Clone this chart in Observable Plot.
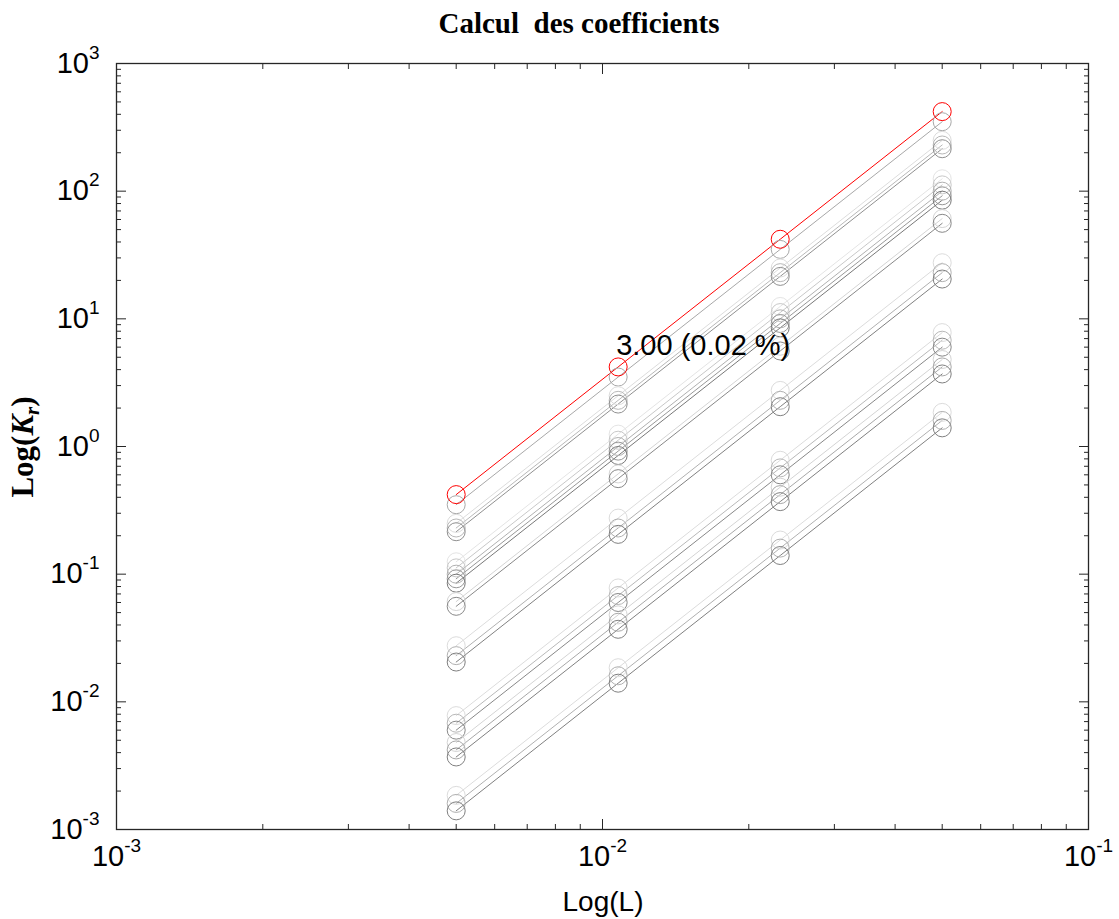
<!DOCTYPE html>
<html>
<head>
<meta charset="utf-8">
<script src="https://cdn.jsdelivr.net/npm/d3@7"></script>
<script src="https://cdn.jsdelivr.net/npm/@observablehq/plot@0.6"></script>
<style>
  body { margin: 0; background: #fff; }
  #wrap { position: relative; width: 1119px; height: 919px; overflow: hidden; background: #fff; }
  #title { position: absolute; left: 579px; top: 23px; transform: translate(-50%, -50%); white-space: nowrap;
           font: bold 29px "Liberation Serif", "Times New Roman", serif; line-height: 34px; color: #000; }
  #chart { position: absolute; left: 0; top: 40px; }
  #ylabel { position: absolute; left: 25px; top: 447px; transform: translate(-50%, -50%) rotate(-90deg);
            white-space: nowrap; font: bold 31px "Liberation Serif", "Times New Roman", serif; color: #000; }
  #ylabel sub { font-size: 21px; vertical-align: -6px; }
  #xlabel { position: absolute; left: 603px; top: 902px; transform: translate(-50%, -50%);
            white-space: nowrap; font: 28px "Liberation Sans", Arial, sans-serif; line-height: 30px; color: #000; }
</style>
</head>
<body>
<div id="wrap">
  <div id="title">Calcul&nbsp; des coefficients</div>
  <div id="chart"></div>
  <div id="ylabel">Log(<i>K</i><sub><i>r</i></sub>)</div>
  <div id="xlabel">Log(L)</div>
</div>
<script>
// ---- data ----
const xValues = [0.005, 0.01077, 0.02321, 0.05];

const seriesNames = [
  "s02","s03","s04","s05","s06","s07","s08","s09","s10","s11","s12",
  "s13","s14","s15","s16","s17","s18","s19","s20","s21","s22","s23","s24","best"
];
const seriesColors = [
  "#a8a8a8","#dcdcdc","#b8b8b8","#909090","#e4e4e4","#c8c8c8","#b0b0b0","#989898","#787878","#d4d4d4","#888888",
  "#dcdcdc","#b0b0b0","#808080","#dcdcdc","#b8b8b8","#888888","#d4d4d4","#a8a8a8","#808080","#dcdcdc","#b0b0b0","#808080",
  "#ff0000"
];
const seriesValues = [
  [0.35, 3.5, 35, 350],
  [0.25, 2.5, 25, 250],
  [0.23, 2.3, 23, 230],
  [0.215, 2.15, 21.5, 215],
  [0.125, 1.25, 12.5, 125],
  [0.112, 1.12, 11.2, 112],
  [0.100, 1.0, 10, 100],
  [0.092, 0.92, 9.2, 92],
  [0.085, 0.85, 8.5, 85],
  [0.061, 0.61, 6.1, 61],
  [0.056, 0.56, 5.6, 56],
  [0.0275, 0.275, 2.75, 27.5],
  [0.023, 0.23, 2.3, 23],
  [0.0205, 0.205, 2.05, 20.5],
  [0.0078, 0.078, 0.78, 7.8],
  [0.0068, 0.068, 0.68, 6.8],
  [0.006, 0.06, 0.6, 6.0],
  [0.0048, 0.048, 0.48, 4.8],
  [0.0042, 0.042, 0.42, 4.2],
  [0.0037, 0.037, 0.37, 3.7],
  [0.00185, 0.0185, 0.185, 1.85],
  [0.0016, 0.016, 0.16, 1.6],
  [0.0014, 0.014, 0.14, 1.4],
  [0.42, 4.2, 42, 420]
];

const annotation = [{x: 0.01077, y: 6.2, text: "3.00 (0.02 %)"}];

const xMajorTicks = [1e-3, 1e-2, 1e-1];
const yMajorTicks = [1e-3, 1e-2, 1e-1, 1e0, 1e1, 1e2, 1e3];
const minorMultipliers = [2, 3, 4, 5, 6, 7, 8, 9];

// ---- build table ----
const rows = [];
seriesNames.forEach((name, s) => {
  xValues.forEach((x, i) => {
    rows.push({series: name, color: seriesColors[s], x, y: seriesValues[s][i]});
  });
});
const minorOf = majors => majors.slice(0, -1).flatMap(m => minorMultipliers.map(k => k * m));
const xMinorTicks = minorOf(xMajorTicks);
const yMinorTicks = minorOf(yMajorTicks);

const expFmt = d => "10^" + Math.round(Math.log10(d));
const blank = () => "";
const axisStyle = {stroke: "#262626", strokeWidth: 1};

const chart = Plot.plot({
  width: 1119,
  height: 879,
  marginLeft: 116,
  marginRight: 31,
  marginTop: 23,
  marginBottom: 90,
  x: {type: "log", domain: [1e-3, 1e-1]},
  y: {type: "log", domain: [1e-3, 1e3]},
  color: {type: "identity"},
  style: {fontFamily: "'Liberation Sans', Arial, sans-serif", background: "white", color: "black"},
  marks: [
    Plot.line(rows, {x: "x", y: "y", z: "series", stroke: "color", strokeWidth: 1}),
    Plot.dot(rows, {x: "x", y: "y", r: 9, stroke: "color", fill: "none", strokeWidth: 1}),
    Plot.text(annotation, {x: "x", y: "y", text: "text", textAnchor: "start", fontSize: 29, fill: "black", dx: -2}),

    // tick labels
    Plot.axisX(xMajorTicks, {anchor: "bottom", tickSize: 0, tickPadding: 16, tickFormat: expFmt, fontSize: 29, label: null}),
    Plot.axisY(yMajorTicks, {anchor: "left", tickSize: 0, tickPadding: 17, tickFormat: expFmt, fontSize: 29, label: null}),

    // inward ticks on all four sides
    Plot.axisX(xMajorTicks, {anchor: "bottom", tickSize: -10, tickFormat: blank, label: null, ...axisStyle}),
    Plot.axisX(xMinorTicks, {anchor: "bottom", tickSize: -5, tickFormat: blank, label: null, ...axisStyle}),
    Plot.axisX(xMajorTicks, {anchor: "top", tickSize: -10, tickFormat: blank, label: null, ...axisStyle}),
    Plot.axisX(xMinorTicks, {anchor: "top", tickSize: -5, tickFormat: blank, label: null, ...axisStyle}),
    Plot.axisY(yMajorTicks, {anchor: "left", tickSize: -10, tickFormat: blank, label: null, ...axisStyle}),
    Plot.axisY(yMinorTicks, {anchor: "left", tickSize: -5, tickFormat: blank, label: null, ...axisStyle}),
    Plot.axisY(yMajorTicks, {anchor: "right", tickSize: -10, tickFormat: blank, label: null, ...axisStyle}),
    Plot.axisY(yMinorTicks, {anchor: "right", tickSize: -5, tickFormat: blank, label: null, ...axisStyle}),

    Plot.frame({stroke: "#262626", strokeWidth: 1.3})
  ]
});

// turn "10^-3" tick labels into 10 with a superscript exponent
chart.querySelectorAll("text").forEach(t => {
  const s = t.textContent;
  const m = /^10\^(-?\d+)$/.exec(s);
  if (!m) return;
  t.textContent = "10";
  const sup = document.createElementNS("http://www.w3.org/2000/svg", "tspan");
  sup.setAttribute("dy", "-14");
  sup.setAttribute("font-size", "19");
  sup.textContent = m[1];
  t.appendChild(sup);
});

document.getElementById("chart").appendChild(chart);
</script>
</body>
</html>
